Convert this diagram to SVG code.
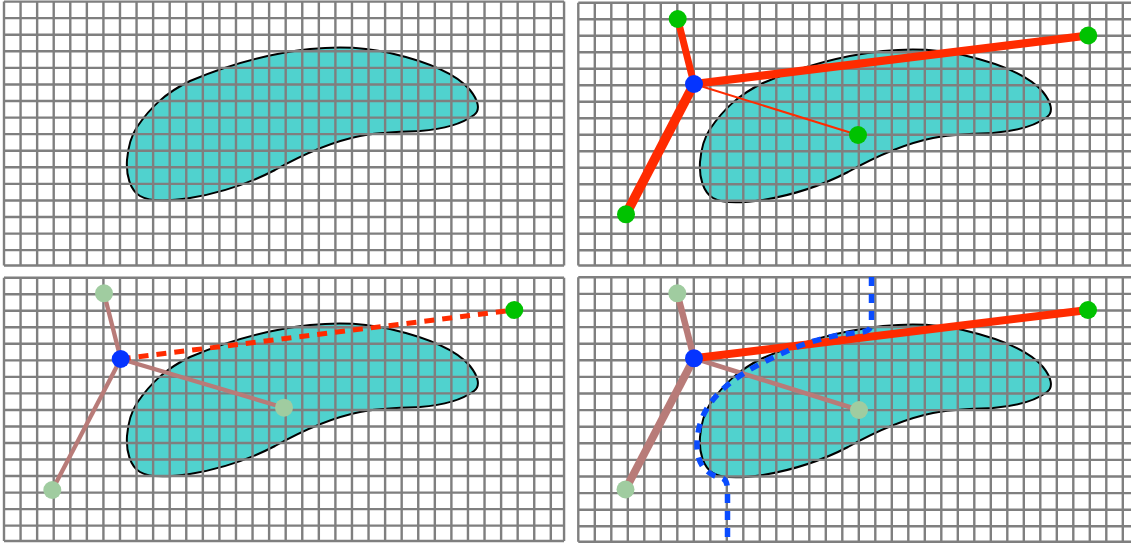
<svg xmlns="http://www.w3.org/2000/svg" width="1131" height="543" viewBox="0 0 1131 543">
<style>
.blob{fill:#50d2ce;stroke:#000;stroke-width:2}
.grid{fill:none;stroke:#7f7f7f;stroke-width:0.145}
.red{stroke:#ff2b00;fill:none}
.rosy{stroke:#b87b78;fill:none}
.blue{fill:#0534ff}
.green{fill:#00c200}
.faded{fill:#a0cca0}
.bdash{fill:none;stroke:#0a4cff;stroke-width:5.5;stroke-dasharray:9 8}
</style>
<defs>
<path id="shape" d="M137,127 C150,108 165,93 190,81 C225,66 265,54 310,49 C340,46 365,47 390,53 C420,60 455,72 470,90 C478,100 481,110 474,115 C462,124 445,129 420,131 C400,132 380,132 360,136 C330,142 300,156 275,170 C250,183 220,193 190,198 C170,201 150,202 140,196 C130,190 126,175 127,160 C128,148 131,136 137,127 Z"/>
<path id="gridpath" d="M0,0V15.93M1,0V15.93M2,0V15.93M3,0V15.93M4,0V15.93M5,0V15.93M6,0V15.93M7,0V15.93M8,0V15.93M9,0V15.93M10,0V15.93M11,0V15.93M12,0V15.93M13,0V15.93M14,0V15.93M15,0V15.93M16,0V15.93M17,0V15.93M18,0V15.93M19,0V15.93M20,0V15.93M21,0V15.93M22,0V15.93M23,0V15.93M24,0V15.93M25,0V15.93M26,0V15.93M27,0V15.93M28,0V15.93M29,0V15.93M30,0V15.93M31,0V15.93M32,0V15.93M33,0V15.93M33.8,0V15.93M0,0H33.8M0,1H33.8M0,2H33.8M0,3H33.8M0,4H33.8M0,5H33.8M0,6H33.8M0,7H33.8M0,8H33.8M0,9H33.8M0,10H33.8M0,11H33.8M0,12H33.8M0,13H33.8M0,14H33.8M0,15H33.8M0,15.93H33.8"/>
</defs>
<rect width="1131" height="543" fill="#fff"/>
<g id="panel1">
<use href="#shape" class="blob"/>
<use href="#gridpath" class="grid" transform="translate(4,1.6) scale(16.57)"/>
</g>
<g id="panel2">
<use href="#shape" class="blob" transform="translate(573,2)"/>
<use href="#gridpath" class="grid" transform="translate(578.3,2.7) scale(16.5)"/>
</g>
<g id="panel3">
<use href="#shape" class="blob" transform="translate(0,276)"/>
<use href="#gridpath" class="grid" transform="translate(4,277.7) scale(16.57,16.53)"/>
</g>
<g id="panel4">
<use href="#shape" class="blob" transform="translate(573,277)"/>
<use href="#gridpath" class="grid" transform="translate(578.3,277.3) scale(16.5,16.6)"/>
</g>
<g id="connectors">
<g id="conn-panel2">
<line class="red" x1="694" y1="84" x2="677.7" y2="19" stroke-width="7"/>
<line class="red" x1="694" y1="84" x2="1088.3" y2="35.5" stroke-width="8"/>
<line class="red" x1="694" y1="84" x2="626" y2="214.3" stroke-width="9.5"/>
<line class="red" x1="694" y1="84" x2="858" y2="135" stroke-width="2"/>
</g>
<g id="conn-panel3">
<line class="rosy" x1="120.7" y1="359" x2="104" y2="293.3" stroke-width="4.3"/>
<line class="rosy" x1="120.7" y1="359" x2="284" y2="407.7" stroke-width="4.3"/>
<line class="rosy" x1="120.7" y1="359" x2="52.3" y2="490" stroke-width="4.3"/>
<line class="red" x1="120.7" y1="359" x2="514.3" y2="310" stroke-width="5" stroke-dasharray="10 8"/>
</g>
<g id="conn-panel4">
<line class="rosy" x1="694" y1="358.3" x2="677.3" y2="293.3" stroke-width="6.5"/>
<line class="rosy" x1="694" y1="358.3" x2="625.5" y2="489.5" stroke-width="8"/>
<line class="rosy" x1="694" y1="358.3" x2="859" y2="410" stroke-width="4.7"/>
<line class="red" x1="694" y1="358.3" x2="1088" y2="310" stroke-width="8"/>
<path class="bdash" d="M871.5,277 V323 Q871.5,331 862,332 L845,334 C820,338 800,345 785,352 C765,361 745,371 730,383 C715,395 703,410 699,428 C695,445 697,460 704,468 C709,474 716,477 722,478 Q727.5,480 727.5,490 V543"/>
</g>
</g>
<g id="node-p2-hub"><circle class="blue" cx="694" cy="84" r="9"/></g>
<g id="node-p2-a"><circle class="green" cx="677.7" cy="19" r="9"/></g>
<g id="node-p2-b"><circle class="green" cx="1088.3" cy="35.5" r="9"/></g>
<g id="node-p2-c"><circle class="green" cx="858" cy="135" r="9"/></g>
<g id="node-p2-d"><circle class="green" cx="626" cy="214.3" r="9"/></g>
<g id="node-p3-hub"><circle class="blue" cx="120.7" cy="359" r="9"/></g>
<g id="node-p3-a"><circle class="faded" cx="104" cy="293.3" r="9"/></g>
<g id="node-p3-b"><circle class="green" cx="514.3" cy="310" r="9"/></g>
<g id="node-p3-c"><circle class="faded" cx="284" cy="407.7" r="9"/></g>
<g id="node-p3-d"><circle class="faded" cx="52.3" cy="490" r="9"/></g>
<g id="node-p4-hub"><circle class="blue" cx="694" cy="358.3" r="9"/></g>
<g id="node-p4-a"><circle class="faded" cx="677.3" cy="293.3" r="9"/></g>
<g id="node-p4-b"><circle class="green" cx="1088" cy="310" r="9"/></g>
<g id="node-p4-c"><circle class="faded" cx="859" cy="410" r="9"/></g>
<g id="node-p4-d"><circle class="faded" cx="625.5" cy="489.5" r="9"/></g>
</svg>
